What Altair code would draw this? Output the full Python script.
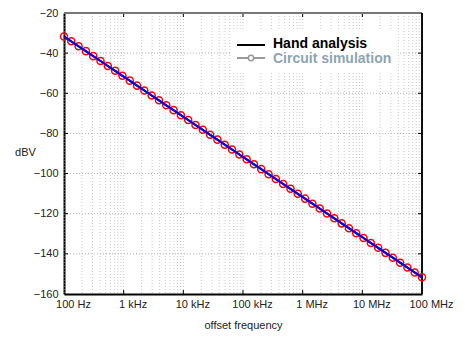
import altair as alt
import pandas as pd

# Circuit simulation points (frequency in Hz, level in dBV)
freq_hz = [100, 132.6, 175.8, 233.0, 308.9, 409.5, 542.9, 719.7, 954.1,
           1265, 1677, 2223, 2947, 3907, 5179, 6866, 9103,
           12068, 15999, 21210, 28118, 37276, 49417, 65513, 86851,
           115140, 152642, 202359, 268270, 355648, 471487, 625055, 828643,
           1098541, 1456348, 1930698, 2559548, 3393222, 4498433, 5963623, 7906043,
           10481131, 13894955, 18420700, 24420531, 32374575, 42919343, 56898660, 75431201,
           100000000]
dbv = [-31.7, -34.1, -36.6, -39.0, -41.5, -43.9, -46.4, -48.8, -51.3,
       -53.7, -56.2, -58.6, -61.1, -63.5, -66.0, -68.4, -70.9,
       -73.3, -75.8, -78.2, -80.7, -83.1, -85.6, -88.0, -90.5,
       -92.9, -95.4, -97.8, -100.3, -102.7, -105.2, -107.6, -110.1,
       -112.5, -115.0, -117.4, -119.9, -122.3, -124.8, -127.2, -129.7,
       -132.1, -134.6, -137.0, -139.5, -141.9, -144.4, -146.8, -149.3,
       -151.7]

# Hand analysis line
hand_freq = [100, 100000000]
hand_dbv = [-31.7, -151.7]

x_tick_values = [100, 1e3, 1e4, 1e5, 1e6, 1e7, 1e8]
x_tick_labels = ["100 Hz", "1 kHz", "10 kHz", "100 kHz", "1 MHz", "10 MHz", "100 MHz"]
y_tick_values = [-160, -140, -120, -100, -80, -60, -40, -20]
minor_mult = [1, 2, 3, 4, 5, 6, 7, 8, 9]
legend_labels = ["Hand analysis", "Circuit simulation"]
legend_text_colors = ["#000000", "#8ea4b2"]

W, H = 358, 281
FONT = "Liberation Sans"

sim = pd.DataFrame({"f": freq_hz, "v": dbv})
hand = pd.DataFrame({"f": hand_freq, "v": hand_dbv})
grid_x = pd.DataFrame({"f": [d * m for d in x_tick_values[:-1] for m in minor_mult] + [x_tick_values[-1]]})
grid_y = pd.DataFrame({"v": y_tick_values[1:-1]})

# label expression built from the tick lists
expr = "''"
for val, lab in reversed(list(zip(x_tick_values, x_tick_labels))):
    expr = f"(abs(log(datum.value)/LN10 - {len(str(int(val)))-1}) < 0.01 ? '{lab}' : {expr})"

xscale = alt.Scale(type="log", domain=[100, 1e8], nice=False)
yscale = alt.Scale(domain=[-160, -20], nice=False)

xenc = alt.X("f:Q", scale=xscale, axis=alt.Axis(
    values=x_tick_values, labelExpr=expr, title="offset frequency",
    labelFontSize=11, labelFont=FONT, labelColor="#222", labelPadding=4, labelOffset=9,
    tickSize=0, domainColor="#000", domainWidth=2, labelFlush=False,
    titleFont=FONT, titleFontSize=11, titleFontWeight="normal", titleColor="#222",
    titleY=31, titleBaseline="middle"))
yenc = alt.Y("v:Q", scale=yscale, axis=alt.Axis(
    values=y_tick_values, title="dBV", titleAngle=0, titleX=-39, titleY=139,
    titleAlign="center", titleBaseline="middle", titleFont=FONT, titleFontSize=11,
    titleFontWeight="normal", titleColor="#222",
    labelFontSize=11, labelFont=FONT, labelColor="#222", labelPadding=6,
    tickSize=0, domainColor="#000", domainWidth=2))

vgrid = alt.Chart(grid_x).mark_rule(color="#bbb", strokeWidth=0.8, strokeDash=[1, 2]).encode(
    x=alt.X("f:Q", scale=xscale), y=alt.value(0), y2=alt.value(H))
hgrid = alt.Chart(grid_y).mark_rule(color="#aaa", strokeWidth=0.9, strokeDash=[1, 2]).encode(
    y=alt.Y("v:Q", scale=yscale), x=alt.value(0), x2=alt.value(W))

tick_y_df = pd.DataFrame({"v": y_tick_values[1:-1]})
tick_x_df = pd.DataFrame({"f": x_tick_values[1:-1]})
ticks_l = alt.Chart(tick_y_df).mark_rule(color="#000", strokeWidth=1).encode(
    y=alt.Y("v:Q", scale=yscale), x=alt.value(0), x2=alt.value(4))
ticks_r = alt.Chart(tick_y_df).mark_rule(color="#000", strokeWidth=1).encode(
    y=alt.Y("v:Q", scale=yscale), x=alt.value(W - 4), x2=alt.value(W))
ticks_b = alt.Chart(tick_x_df).mark_rule(color="#000", strokeWidth=1).encode(
    x=alt.X("f:Q", scale=xscale), y=alt.value(H - 4), y2=alt.value(H))
ticks_t = alt.Chart(tick_x_df).mark_rule(color="#000", strokeWidth=1).encode(
    x=alt.X("f:Q", scale=xscale), y=alt.value(0), y2=alt.value(4))

top_border = alt.Chart(hand).mark_rule(color="#777", strokeWidth=2).encode(
    x=alt.value(0), x2=alt.value(W), y=alt.value(0))
right_border = alt.Chart(hand).mark_rule(color="#000", strokeWidth=1.5).encode(
    y=alt.value(0), y2=alt.value(H), x=alt.value(W))

hand_line = alt.Chart(hand).mark_line(color="#000", strokeWidth=2).encode(x=xenc, y=yenc)
sim_pts = alt.Chart(sim).mark_point(shape="circle", filled=False, color="#ff0000",
                                    size=50, strokeWidth=1.5, opacity=1).encode(
    x=alt.X("f:Q", scale=xscale), y=alt.Y("v:Q", scale=yscale))
sim_line = alt.Chart(sim).mark_line(color="#0000ff", strokeWidth=2).encode(
    x=alt.X("f:Q", scale=xscale), y=alt.Y("v:Q", scale=yscale))

# legend
leg_bg = alt.Chart(hand).mark_rect(color="white").encode(
    x=alt.value(167), x2=alt.value(334), y=alt.value(17), y2=alt.value(59))
leg_l1 = alt.Chart(hand).mark_rule(color="#000", strokeWidth=2).encode(
    x=alt.value(173), x2=alt.value(201), y=alt.value(32))
leg_l2 = alt.Chart(hand).mark_rule(color="#999", strokeWidth=2).encode(
    x=alt.value(173), x2=alt.value(201), y=alt.value(45))
leg_pt = alt.Chart(pd.DataFrame({"a": [0]})).mark_point(
    shape="circle", filled=True, fill="white", stroke="#999", strokeWidth=1.5, size=28, opacity=1).encode(
    x=alt.value(187), y=alt.value(45))
leg_t1 = alt.Chart(pd.DataFrame({"t": [legend_labels[0]]})).mark_text(
    align="left", baseline="middle", font=FONT, fontSize=14, fontWeight="bold",
    color=legend_text_colors[0]).encode(text="t:N", x=alt.value(209), y=alt.value(31))
leg_t2 = alt.Chart(pd.DataFrame({"t": [legend_labels[1]]})).mark_text(
    align="left", baseline="middle", font=FONT, fontSize=14, fontWeight="bold",
    color=legend_text_colors[1]).encode(text="t:N", x=alt.value(209), y=alt.value(46))

chart = alt.layer(
    hand_line, vgrid, hgrid, ticks_l, ticks_r, ticks_b, ticks_t, top_border, right_border,
    sim_pts, sim_line, leg_bg, leg_l1, leg_l2, leg_pt, leg_t1, leg_t2
).properties(
    width=W, height=H,
    autosize=alt.AutoSizeParams(type="none"),
    padding={"left": 56, "top": 5, "right": 35, "bottom": 37},
).configure_view(stroke=None).configure_axis(grid=False)

chart.save("out.html", embed_options={"renderer": "svg", "actions": False})
